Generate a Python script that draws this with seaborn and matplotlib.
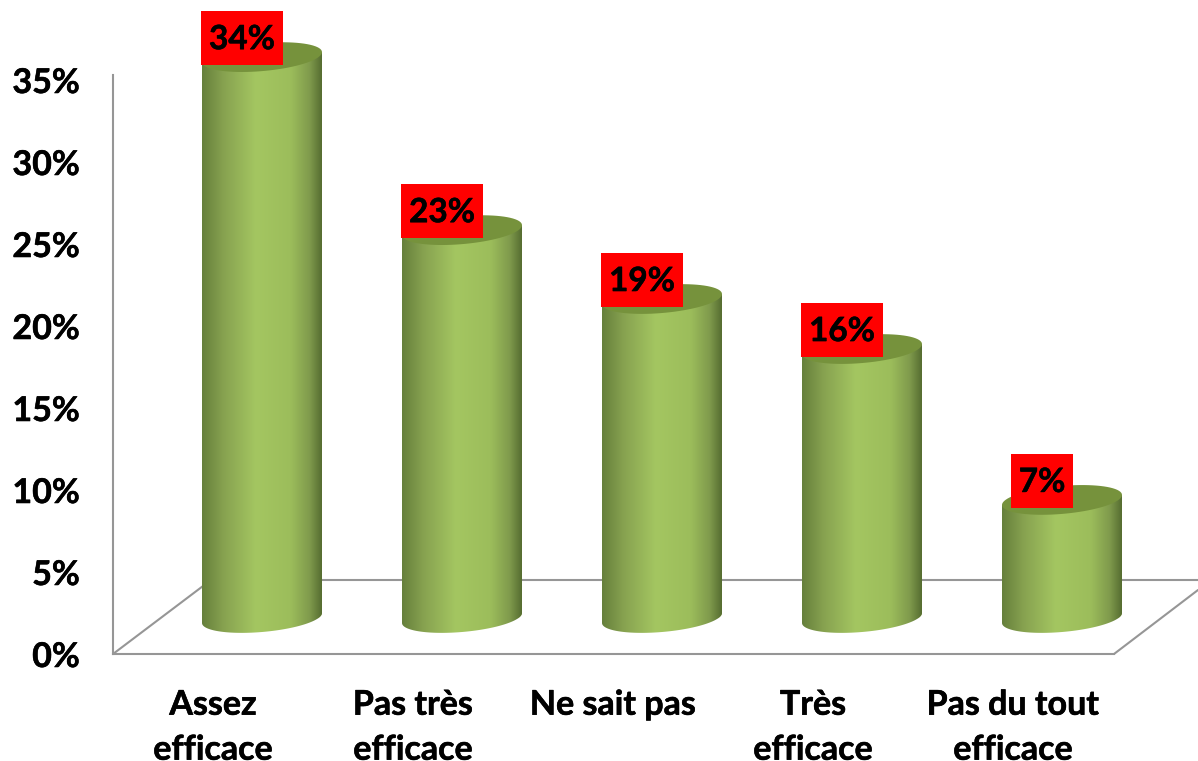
import numpy as np
import pandas as pd
import seaborn as sns

from matplotlib import patheffects
from matplotlib import pyplot as plt
from matplotlib.colors import LinearSegmentedColormap
from matplotlib.patches import Polygon, Rectangle

categories = ["Assez\nefficace", "Pas très\nefficace", "Ne sait pas", "Très\nefficace", "Pas du tout\nefficace"]
heights = [34.2, 23.65, 19.45, 16.4, 7.2]
value_labels = ["34%", "23%", "19%", "16%", "7%"]
tick_values = [0, 5, 10, 15, 20, 25, 30, 35]
tick_labels = ["0%", "5%", "10%", "15%", "20%", "25%", "30%", "35%"]

# Layout in pixels of the 1198x761 figure
FIG_W, FIG_H = 1198, 761
AXIS_LEFT, AXIS_BOTTOM = 113, 654
PX_PER_PCT = 16.4
PX_PER_CAT = 200
FLOOR_Y = 618          # pixel row where the bars stand
FIRST_BAR_X = 262
DEPTH_X = 49           # horizontal shift between the front axis and the bars
GRAY = "#969696"

sns.set_theme(style="white")
plt.rcParams["font.family"] = ["Lato", "DejaVu Sans"]

CYL_CMAP = LinearSegmentedColormap.from_list(
    "cylinder",
    [(0.0, "#66803c"), (0.18, "#87a250"), (0.45, "#a4c661"), (0.74, "#9cbd5b"),
     (0.90, "#7f9a4c"), (1.0, "#566d31")],
)
HEAVY = [patheffects.withStroke(linewidth=0.4, foreground="black")]

depth = (AXIS_BOTTOM - FLOOR_Y) / PX_PER_PCT


def to_x(px: float) -> float:
    return (px - FIRST_BAR_X) / PX_PER_CAT


def to_y(py: float) -> float:
    return (FLOOR_Y - py) / PX_PER_PCT


def ellipse_arc(cx: float, value: float, half_width: float, start: float, stop: float) -> np.ndarray:
    """Slightly sheared ellipse outline in data units, left end lower than right end."""
    t = np.linspace(start, stop, 80)
    dx = half_width * np.cos(t)
    # 14 px half height, 5 px of shear
    dy = (14 * np.sin(t) + 5 * np.cos(t)) / PX_PER_PCT
    return np.column_stack([cx + dx, value + dy])


fig = plt.figure(figsize=(FIG_W / 100, FIG_H / 100), dpi=100, facecolor="white")
ax = fig.add_axes([
    AXIS_LEFT / FIG_W,
    (FIG_H - AXIS_BOTTOM) / FIG_H,
    (FIG_W - AXIS_LEFT) / FIG_W,
    AXIS_BOTTOM / FIG_H,
])

df = pd.DataFrame({"category": categories, "value": heights})
sns.barplot(data=df, x="category", y="value", color="#9cbd5b", width=0.6, saturation=1, ax=ax, zorder=3)

# Floor and back wall
line_style = dict(color=GRAY, lw=1.5, zorder=1, clip_on=False)
ax.plot([to_x(113), to_x(211)], [to_y(654), to_y(580)], **line_style)
ax.plot([to_x(211), to_x(1198)], [to_y(580), to_y(580)], **line_style)
ax.plot([to_x(1114), to_x(1198)], [to_y(654), to_y(590)], **line_style)

# Turn each flat bar into a cylinder
for bar, value in zip(list(ax.patches), heights):
    x0, w = bar.get_x(), bar.get_width()
    cx = x0 + w / 2
    half = w / 2

    lower = ellipse_arc(cx, 0, half, -np.pi, 0)
    body = np.vstack([lower, [[cx + half, value + 5 / PX_PER_PCT]], [[cx - half, value - 5 / PX_PER_PCT]]])
    clip = Polygon(body, closed=True, transform=ax.transData)
    bar.set_clip_path(clip)

    im = ax.imshow(
        np.linspace(0, 1, 256).reshape(1, -1),
        cmap=CYL_CMAP, aspect="auto", interpolation="bilinear",
        extent=(x0, x0 + w, -2, value + 1), zorder=3.5,
    )
    im.set_clip_path(clip)

    ax.add_patch(Polygon(ellipse_arc(cx, value, half, 0, 2 * np.pi), closed=True,
                         facecolor="#76923c", edgecolor="none", zorder=4))

ax.set_xlim(to_x(AXIS_LEFT), to_x(FIG_W))
ax.set_ylim(to_y(AXIS_BOTTOM), to_y(0))

# Red value labels, above and left of each cylinder top
fig.canvas.draw()
renderer = fig.canvas.get_renderer()
for i, (value, label) in enumerate(zip(heights, value_labels)):
    tx = i - 20 / PX_PER_CAT
    ty = value + 20 / PX_PER_PCT
    text = ax.text(tx, ty, label, ha="center", va="center_baseline", fontsize=24,
                   fontweight="bold", color="black", zorder=6, path_effects=HEAVY)
    box_w = (text.get_window_extent(renderer).width + 16) / PX_PER_CAT
    box_h = 54 / PX_PER_PCT
    box_y = ty - 1 / PX_PER_PCT
    ax.add_patch(Rectangle((tx - box_w / 2, box_y - box_h / 2), box_w, box_h,
                           facecolor="#ff0000", edgecolor="none", zorder=5))

# Axes sit on the front edge of the floor, so the ticks are shifted by the depth
ax.set_yticks([v - depth for v in tick_values], tick_labels, fontsize=24.5, fontweight="bold", color="black")
ax.set_xticks([i - DEPTH_X / PX_PER_CAT for i in range(len(categories))], categories,
              fontsize=24.5, fontweight="bold", color="black", linespacing=1.5)
ax.tick_params(axis="y", length=0, pad=24)
ax.tick_params(axis="x", length=0, pad=25)
for tick in ax.get_xticklabels() + ax.get_yticklabels():
    tick.set_path_effects(HEAVY)
ax.set_xlabel("")
ax.set_ylabel("")

for side in ("top", "right"):
    ax.spines[side].set_visible(False)
for side in ("left", "bottom"):
    ax.spines[side].set_color(GRAY)
    ax.spines[side].set_linewidth(1.5)
ax.spines["left"].set_bounds(to_y(AXIS_BOTTOM), to_y(75))
ax.spines["bottom"].set_bounds(to_x(AXIS_LEFT), to_x(1114))

fig.savefig("out.png", dpi=100, facecolor="white")
